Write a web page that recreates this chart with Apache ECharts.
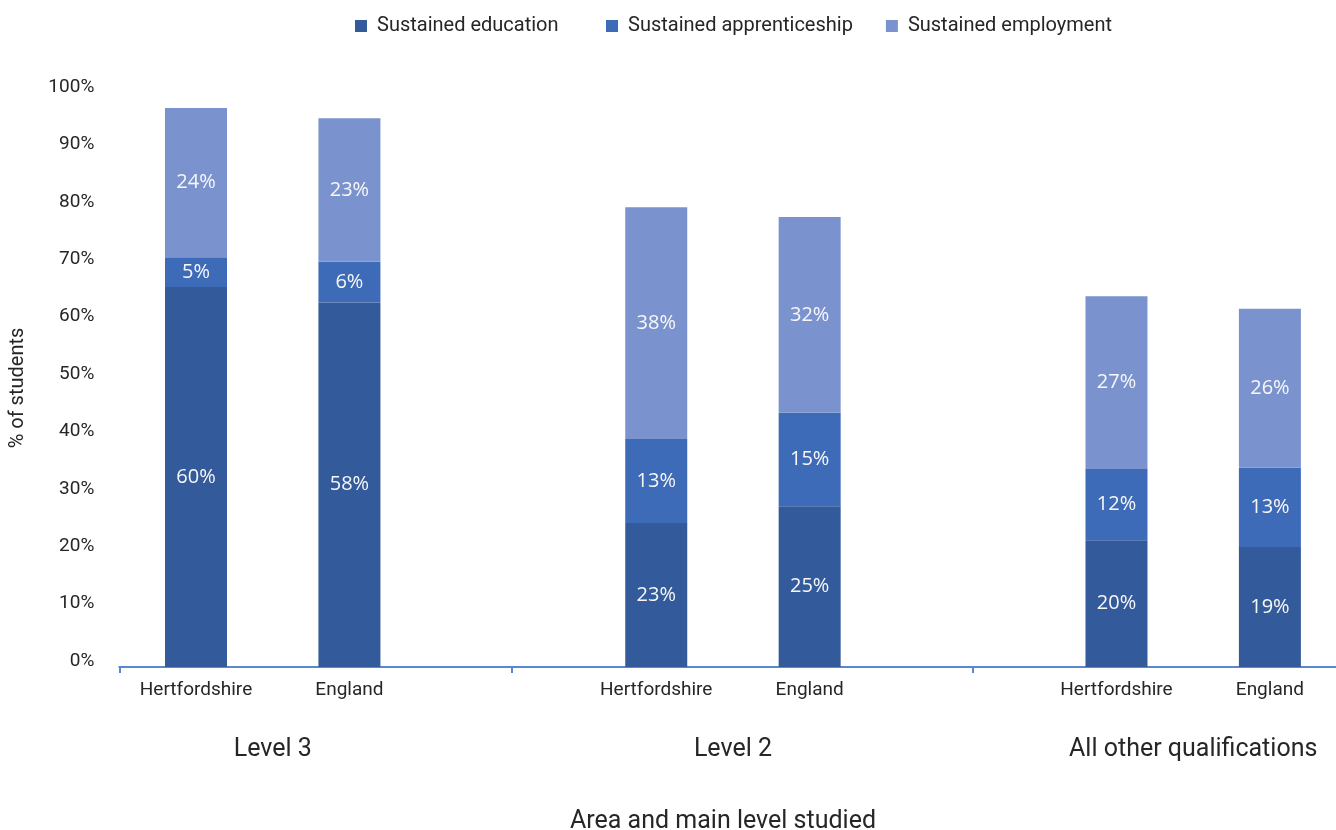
<!DOCTYPE html>
<html>
<head>
<meta charset="utf-8">
<script src="https://cdn.jsdelivr.net/npm/echarts@6/dist/echarts.min.js"></script>
<style>
html,body{margin:0;padding:0;background:#ffffff;}
#chart{width:1336px;height:830px;}
</style>
</head>
<body>
<div id="chart"></div>
<script>
// ---- data ----
const groups = ['Level 3', 'Level 2', 'All other qualifications'];
const categories = ['Hertfordshire', 'England', '', 'Hertfordshire', 'England', '', 'Hertfordshire', 'England'];
const seriesNames = ['Sustained education', 'Sustained apprenticeship', 'Sustained employment'];
// segment heights as drawn in the picture (% of students axis)
const education      = [66.2, 63.5, null, 25.1, 28.0, null, 22.1, 20.9];
const apprenticeship = [5.2,  7.1,  null, 14.6, 16.3, null, 12.4, 13.8];
const employment     = [26.0, 25.0, null, 40.4, 34.1, null, 30.1, 27.7];
// printed data labels
const educationLabels      = [60, 58, null, 23, 25, null, 20, 19];
const apprenticeshipLabels = [5,  6,  null, 13, 15, null, 12, 13];
const employmentLabels     = [24, 23, null, 38, 32, null, 27, 26];
const yAxisTitle = '% of students';
const xAxisTitle = 'Area and main level studied';

// ---- styles ----
const colors = ['#335a9a', '#3e6bb8', '#7a93ce'];
const textColor = '#262626';
const axisColor = '#5b87d0';
const font = 'Roboto';

const chart = echarts.init(document.getElementById('chart'), null, {renderer: 'canvas'});

const groupCenters = groups.map((g, i) => i * 3 + 1);
const sepOffset = 0.56;
const separators = [0].concat(groups.slice(1).map((g, i) => (i + 1) * 3 - 1 + sepOffset));

function makeSeries(name, data, labels, color) {
  return {
    name: name,
    type: 'bar',
    stack: 'total',
    xAxisIndex: 0,
    yAxisIndex: 0,
    barWidth: 62,
    data: data,
    itemStyle: {color: color},
    label: {
      show: true,
      position: 'inside',
      color: '#f7f7f7',
      fontFamily: 'Open Sans',
      fontSize: 20,
      formatter: p => labels[p.dataIndex] == null ? '' : labels[p.dataIndex] + '%'
    },
    emphasis: {disabled: true}
  };
}

const legendBase = {
  top: 11,
  icon: 'rect',
  itemWidth: 12,
  itemHeight: 12,
  selectedMode: false,
  textStyle: {fontFamily: font, fontSize: 20, color: textColor, padding: [0, 0, 0, 5]}
};

const option = {
  animation: false,
  backgroundColor: '#ffffff',
  textStyle: {fontFamily: font, color: textColor},
  legend: [
    Object.assign({}, legendBase, {data: seriesNames.slice(0, 1), left: 350}),
    Object.assign({}, legendBase, {data: seriesNames.slice(1), left: 601, itemGap: 33})
  ],
  grid: {left: 119.3, width: 1227.3, top: 93, bottom: 163, containLabel: false, outerBoundsMode: 'none'},
  xAxis: [
    {
      type: 'category',
      data: categories,
      position: 'bottom',
      axisLine: {show: false},
      axisTick: {show: false},
      splitLine: {show: false},
      axisLabel: {
        interval: 0,
        margin: 14,
        fontFamily: font,
        fontSize: 19,
        color: textColor
      }
    },
    {
      type: 'value',
      min: 0,
      max: categories.length,
      position: 'bottom',
      axisLine: {show: true, onZero: false, lineStyle: {color: axisColor, width: 2}},
      axisTick: {show: true, customValues: separators, length: 6, lineStyle: {color: axisColor, width: 2}},
      splitLine: {show: false},
      axisLabel: {
        customValues: groupCenters,
        formatter: v => groups[Math.round((v - 1) / 3)] || '',
        margin: 70,
        fontFamily: font,
        fontSize: 25,
        color: textColor
      }
    }
  ],
  yAxis: {
    type: 'value',
    min: 0,
    max: 100,
    interval: 10,
    axisLine: {show: false},
    axisTick: {show: false},
    splitLine: {show: false},
    axisLabel: {
      formatter: '{value}%',
      margin: 25,
      fontFamily: font,
      fontSize: 19,
      color: textColor,
      verticalAlign: 'bottom',
      lineHeight: 12
    }
  },
  graphic: [
    {
      type: 'text',
      x: 18,
      y: 388,
      rotation: Math.PI / 2,
      style: {text: yAxisTitle, fontFamily: font, fontSize: 20, fill: textColor, align: 'center', verticalAlign: 'middle'}
    },
    {
      type: 'text',
      x: 723,
      y: 821.5,
      style: {text: xAxisTitle, fontFamily: font, fontSize: 25, fill: textColor, align: 'center', verticalAlign: 'middle'}
    }
  ],
  series: [
    makeSeries(seriesNames[0], education, educationLabels, colors[0]),
    makeSeries(seriesNames[1], apprenticeship, apprenticeshipLabels, colors[1]),
    makeSeries(seriesNames[2], employment, employmentLabels, colors[2])
  ]
};

chart.setOption(option);
</script>
</body>
</html>
